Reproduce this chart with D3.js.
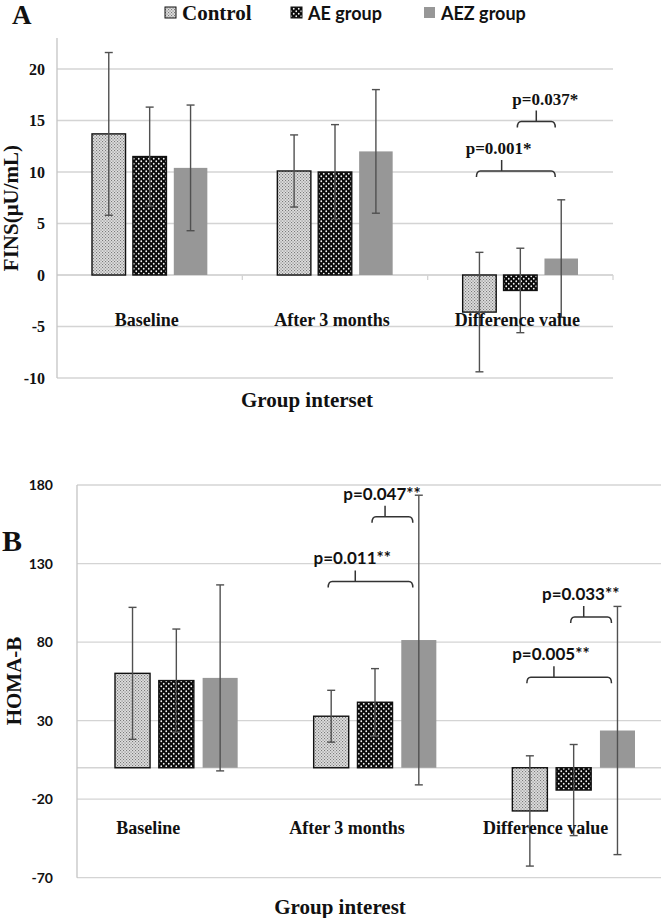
<!DOCTYPE html>
<html><head><meta charset="utf-8">
<script src="https://cdn.jsdelivr.net/npm/d3@7/dist/d3.min.js"></script>
<style>
html,body{margin:0;padding:0;background:#fff;}
svg{display:block;}
</style></head>
<body>
<svg id="chart" width="661" height="918"></svg>
<script>
// ---------- DATA ----------
const categories = ["Baseline", "After 3 months", "Difference value"];
const seriesNames = ["Control", "AE group", "AEZ group"];

// Panel A: FINS (µU/mL)
const finsControl   = [13.7, 10.1, -3.6];
const finsAE        = [11.5, 10.0, -1.5];
const finsAEZ       = [10.4, 12.0, 1.6];
const finsControlSD = [7.9, 3.5, 5.8];
const finsAESD      = [4.8, 4.6, 4.1];
const finsAEZSD     = [6.1, 6.0, 5.7];
const finsTicks     = [-10, -5, 0, 5, 10, 15, 20];

// Panel B: HOMA-B
const homaControl   = [60.1, 32.8, -27.5];
const homaAE        = [55.5, 41.7, -14.2];
const homaAEZ       = [57.2, 81.3, 23.7];
const homaControlSD = [42.0, 16.5, 35.1];
const homaAESD      = [32.8, 21.4, 29.0];
const homaAEZSD     = [59.2, 92.2, 79.0];
const homaTicks     = [-70, -20, 30, 80, 130, 180];

// significance annotations: [category, fromSeries, toSeries, level, label]
const finsSig = [
  ["Difference value", "Control", "AEZ group", 10.1, "p=0.001*"],
  ["Difference value", "AE group", "AEZ group", 14.9, "p=0.037*"]
];
const homaSig = [
  ["After 3 months", "Control", "AEZ group", 118.6, "p=0.011**"],
  ["After 3 months", "AE group", "AEZ group", 159.8, "p=0.047**"],
  ["Difference value", "Control", "AEZ group", 57.6, "p=0.005**"],
  ["Difference value", "AE group", "AEZ group", 95.9, "p=0.033**"]
];

// ---------- STYLE ----------
const SERIF = "'Liberation Serif','Times New Roman',serif";
const SANS = "'Lato','Liberation Sans',Arial,sans-serif";
const GRID = "#d4d4d4";
const ERR = "#505050";

const svg = d3.select("#chart");
const defs = svg.append("defs");

// Control: fine stipple
const pc = defs.append("pattern").attr("id", "pCtrl").attr("patternUnits", "userSpaceOnUse")
  .attr("width", 3).attr("height", 3);
pc.append("rect").attr("width", 3).attr("height", 3).attr("fill", "#dedede");
pc.append("rect").attr("x", 0).attr("y", 0).attr("width", 1.1).attr("height", 1.1).attr("fill", "#7a7a7a");
pc.append("rect").attr("x", 1.5).attr("y", 1.5).attr("width", 1.1).attr("height", 1.1).attr("fill", "#7a7a7a");

// AE: black with white dots
const pa = defs.append("pattern").attr("id", "pAE").attr("patternUnits", "userSpaceOnUse")
  .attr("width", 5).attr("height", 5);
pa.append("rect").attr("width", 5).attr("height", 5).attr("fill", "#0a0a0a");
pa.append("circle").attr("cx", 1.25).attr("cy", 1.25).attr("r", 0.9).attr("fill", "#f4f4f4");
pa.append("circle").attr("cx", 3.75).attr("cy", 3.75).attr("r", 0.9).attr("fill", "#f4f4f4");

const fills = {"Control": "url(#pCtrl)", "AE group": "url(#pAE)", "AEZ group": "#979797"};
const strokes = {"Control": "#111", "AE group": "#111", "AEZ group": "none"};

function bracketPath(x1, x2, y, sx, stemH) {
  const d = 6, r = 4;
  return `M${x1},${y + d} Q${x1},${y} ${x1 + r},${y} L${x2 - r},${y} Q${x2},${y} ${x2},${y + d}` +
         ` M${sx},${y} L${sx},${y - stemH}`;
}

function panel(cfg) {
  const g = svg.append("g");
  const x = d3.scaleBand().domain(categories).range([cfg.x0, cfg.x1]);
  const inner = d3.scaleBand().domain(seriesNames)
    .range([cfg.innerPad, x.bandwidth() - cfg.innerPad]).paddingInner(cfg.barGap);
  const y = d3.scaleLinear().domain(cfg.domain).range(cfg.yRange);

  // gridlines
  g.append("g").selectAll("line").data(cfg.ticks).join("line")
    .attr("x1", cfg.x0).attr("x2", cfg.gridRight)
    .attr("y1", d => y(d)).attr("y2", d => y(d))
    .attr("stroke", GRID).attr("stroke-width", 1.3);
  // zero line
  g.append("line").attr("x1", cfg.x0).attr("x2", cfg.gridRight)
    .attr("y1", y(0)).attr("y2", y(0)).attr("stroke", GRID).attr("stroke-width", 1.3);
  // category tick marks
  if (cfg.catTicks) {
    g.append("g").selectAll("line").data(categories).join("line")
      .attr("x1", d => x(d) + x.bandwidth()).attr("x2", d => x(d) + x.bandwidth())
      .attr("y1", y(0)).attr("y2", y(0) + 5).attr("stroke", GRID).attr("stroke-width", 1.3);
  }
  // y axis line
  g.append("line").attr("x1", cfg.x0).attr("x2", cfg.x0)
    .attr("y1", cfg.axisTop).attr("y2", y(cfg.domain[0]))
    .attr("stroke", "#c4c4c4").attr("stroke-width", 1.3);

  // tick labels via d3 axis
  const axis = d3.axisLeft(y).tickValues(cfg.ticks).tickFormat(d => String(d))
    .tickSize(0).tickPadding(cfg.tickPad);
  const ag = g.append("g").attr("transform", `translate(${cfg.x0},0)`).call(axis);
  ag.select(".domain").remove();
  ag.selectAll("text").attr("font-family", cfg.tickFont).attr("font-weight", "bold")
    .attr("font-size", cfg.tickSize).attr("fill", "#111");

  // bars
  cfg.series.forEach((vals, si) => {
    const s = seriesNames[si];
    g.append("g").selectAll("rect").data(vals).join("rect")
      .attr("x", (d, i) => x(categories[i]) + inner(s))
      .attr("width", inner.bandwidth())
      .attr("y", d => Math.min(y(d), y(0)))
      .attr("height", d => Math.abs(y(d) - y(0)))
      .attr("fill", fills[s])
      .attr("stroke", strokes[s]).attr("stroke-width", 1.4);
  });
  // error bars
  cfg.series.forEach((vals, si) => {
    const s = seriesNames[si];
    const sd = cfg.sds[si];
    const eg = g.append("g").attr("stroke", ERR).attr("stroke-width", 1.4);
    vals.forEach((v, i) => {
      const cx = x(categories[i]) + inner(s) + inner.bandwidth() / 2;
      const hi = y(v + sd[i]), lo = y(v - sd[i]);
      eg.append("line").attr("x1", cx).attr("x2", cx).attr("y1", hi).attr("y2", lo);
      eg.append("line").attr("x1", cx - 4).attr("x2", cx + 4).attr("y1", hi).attr("y2", hi);
      eg.append("line").attr("x1", cx - 4).attr("x2", cx + 4).attr("y1", lo).attr("y2", lo);
    });
  });

  // category labels
  g.append("g").selectAll("text").data(categories).join("text")
    .attr("x", d => x(d) + x.bandwidth() / 2 + cfg.catDx)
    .attr("y", cfg.catY)
    .attr("text-anchor", "middle")
    .attr("font-family", SERIF).attr("font-weight", "bold").attr("font-size", cfg.catSize)
    .attr("fill", "#111")
    .text(d => d);

  // significance brackets
  cfg.sig.forEach(([cat, a, b, lvl, label]) => {
    const xa = x(cat) + inner(a) + inner.bandwidth() / 2 - 3;
    const xb = x(cat) + inner(b) + inner.bandwidth() / 2 - 6;
    const yy = y(lvl);
    const centered = (a === "AE group" && cfg.centerStemAE);
    const sx = xa + (xb - xa) * (centered ? 0.5 : 0.32);
    g.append("path").attr("d", bracketPath(xa, xb, yy, sx, 11))
      .attr("fill", "none").attr("stroke", "#333").attr("stroke-width", 1.5);
    g.append("text").attr("x", sx + (centered ? 9 : cfg.sigDx)).attr("y", yy - 17)
      .attr("text-anchor", "middle")
      .attr("font-family", cfg.sigFont).attr("font-weight", "bold")
      .attr("font-size", cfg.sigSize).attr("fill", "#111")
      .text(label);
  });

  // axis titles
  g.append("text").attr("x", cfg.titleX).attr("y", cfg.titleY)
    .attr("text-anchor", "middle").attr("font-family", SERIF).attr("font-weight", "bold")
    .attr("font-size", 21).attr("fill", "#111").text(cfg.xTitle);
  g.append("text").attr("transform", `translate(${cfg.yTitleX},${cfg.yTitleY}) rotate(-90)`)
    .attr("text-anchor", "middle").attr("font-family", SERIF).attr("font-weight", "bold")
    .attr("font-size", cfg.yTitleSize).attr("fill", "#111").text(cfg.yTitle);
  return g;
}

// Panel A
panel({
  x0: 57, x1: 613, gridRight: 613, innerPad: 35, barGap: 0.18,
  domain: [-10, 20], yRange: [378, 69], axisTop: 38, ticks: finsTicks,
  tickFont: SERIF, tickSize: 16, tickPad: 12, catTicks: true,
  series: [finsControl, finsAE, finsAEZ], sds: [finsControlSD, finsAESD, finsAEZSD],
  catY: 326, catDx: -3, catSize: 18,
  sig: finsSig, sigFont: SERIF, sigSize: 17, sigDx: -3, centerStemAE: true,
  xTitle: "Group interset", titleX: 307, titleY: 407,
  yTitle: "FINS(\u03bcU/mL)", yTitleX: 18, yTitleY: 208, yTitleSize: 21
});

// Panel B
panel({
  x0: 77, x1: 673, gridRight: 661, innerPad: 38, barGap: 0.2,
  domain: [-70, 180], yRange: [877.7, 485], axisTop: 485, ticks: homaTicks,
  tickFont: SANS, tickSize: 14, tickPad: 24, catTicks: false,
  series: [homaControl, homaAE, homaAEZ], sds: [homaControlSD, homaAESD, homaAEZSD],
  catY: 834, catDx: -28, catSize: 18,
  sig: homaSig, sigFont: SANS, sigSize: 17, sigDx: -3, centerStemAE: false,
  xTitle: "Group interest", titleX: 340, titleY: 914,
  yTitle: "HOMA-B", yTitleX: 21, yTitleY: 681, yTitleSize: 21
});

// Panel letters
svg.append("text").attr("x", 12).attr("y", 24).attr("font-family", SERIF).attr("font-weight", "bold")
  .attr("font-size", 27).attr("fill", "#111").text("A");
svg.append("text").attr("x", 2).attr("y", 551).attr("font-family", SERIF).attr("font-weight", "bold")
  .attr("font-size", 30).attr("fill", "#111").text("B");

// Legend
const legendX = [165, 291, 424];
const lg = svg.append("g");
seriesNames.forEach((s, i) => {
  lg.append("rect").attr("x", legendX[i]).attr("y", 7).attr("width", 11).attr("height", 11)
    .attr("fill", fills[s]).attr("stroke", strokes[s] === "none" ? "none" : "#111").attr("stroke-width", 1);
  lg.append("text").attr("x", legendX[i] + 17).attr("y", 20)
    .attr("font-family", i === 0 ? SERIF : SANS).attr("font-weight", "bold")
    .attr("font-size", i === 0 ? 21 : 18).attr("fill", "#111").text(s);
});
</script>
</body></html>
